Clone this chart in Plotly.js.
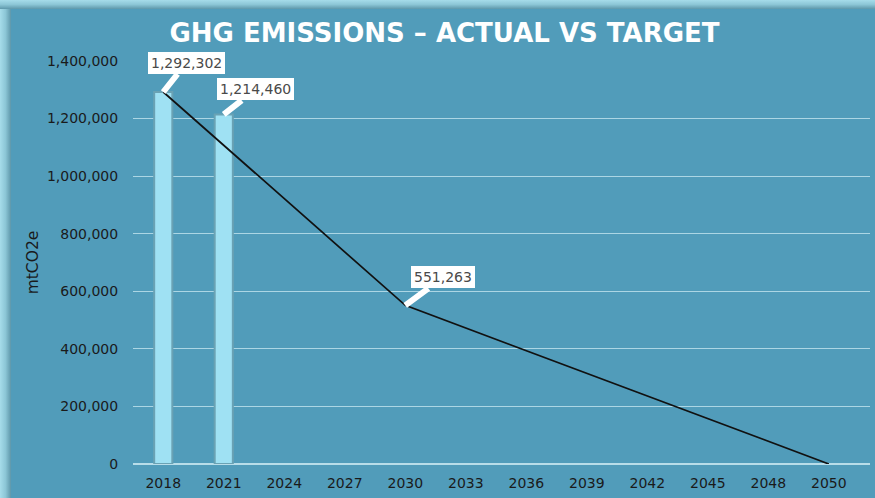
<!DOCTYPE html>
<html>
<head>
<meta charset="utf-8">
<script src="https://cdn.plot.ly/plotly-3.0.1.min.js"></script>
<style>
  html, body { margin: 0; padding: 0; background: #519cba; }
  #wrap { position: relative; width: 875px; height: 498px; overflow: hidden; }
  #chart { position: absolute; left: 0; top: 0; width: 875px; height: 498px; }
  #topbar { position: absolute; left: 0; top: 0; width: 875px; height: 9px;
    background: linear-gradient(to bottom, #a6dcea 0%, #8cc6d6 50%, #5e97aa 100%); z-index: 5; }
  #leftbar { position: absolute; left: 0; top: 0; width: 11px; height: 498px;
    background: linear-gradient(to right, #a6dcea 0%, #8cc6d6 50%, #5e97aa 100%); z-index: 4; }
</style>
</head>
<body>
<div id="wrap">
  <div id="chart"></div>
  <div id="topbar"></div>
  <div id="leftbar"></div>
</div>
<script>
const years = ['2018','2021','2024','2027','2030','2033','2036','2039','2042','2045','2048','2050'];
const actualValues = [1292302, 1214460, null, null, null, null, null, null, null, null, null, null];
const targetValues = [1292302, null, null, null, 551263, null, null, null, null, null, null, 0];
const yTicks = [0, 200000, 400000, 600000, 800000, 1000000, 1200000, 1400000];
const yTickText = ['0','200,000','400,000','600,000','800,000','1,000,000','1,200,000','1,400,000'];

const fmt = v => v.toLocaleString('en-US');

const traces = [
  {
    type: 'bar', x: years, y: actualValues, width: 0.3,
    marker: { color: '#9fe1f3', line: { color: '#6aa2b4', width: 2 } },
    hoverinfo: 'skip', showlegend: false
  },
  {
    type: 'scatter', mode: 'lines', x: years, y: targetValues, connectgaps: true,
    line: { color: '#111111', width: 1.7 }, hoverinfo: 'skip', showlegend: false
  }
];

const calloutStyle = {
  showarrow: true, arrowhead: 0, arrowwidth: 6, arrowcolor: '#ffffff',
  bgcolor: '#ffffff', borderpad: 3, borderwidth: 0,
  font: { family: 'DejaVu Sans, Verdana, sans-serif', size: 14, color: '#4a4a4a' }
};

// category index via the axis (annotations on category axes take index positions)
const idx = y => years.indexOf(y);

const annotations = [
  Object.assign({}, calloutStyle, { xref: 'x', yref: 'y', x: idx('2018'), y: actualValues[0], text: fmt(actualValues[0]), ax: 23, ay: -29 }),
  Object.assign({}, calloutStyle, { xref: 'x', yref: 'y', x: idx('2021'), y: actualValues[1], text: fmt(actualValues[1]), ax: 32, ay: -25 }),
  Object.assign({}, calloutStyle, { xref: 'x', yref: 'y', x: idx('2030'), y: targetValues[4], text: fmt(targetValues[4]), ax: 38, ay: -28 })
];

const layout = {
  width: 875, height: 498,
  paper_bgcolor: '#519cba', plot_bgcolor: '#519cba',
  margin: { l: 133, r: 5, t: 61, b: 34 },
  title: {
    text: '<b>GHG EMISSIONS – ACTUAL VS TARGET</b>',
    font: { family: 'DejaVu Sans, Verdana, sans-serif', size: 26, color: '#ffffff' },
    x: 0.508, xanchor: 'center', y: 1 - 33/498, yanchor: 'middle'
  },
  font: { family: 'DejaVu Sans, Verdana, sans-serif', color: '#1a1a1a' },
  xaxis: {
    type: 'category', range: [-0.5, 11.68],
    showgrid: false, zeroline: false, showline: false,
    ticks: 'outside', ticklen: 6, tickcolor: 'rgba(0,0,0,0)',
    tickfont: { size: 14, color: '#1a1a1a' }, fixedrange: true
  },
  yaxis: {
    range: [0, 1400000], tickvals: yTicks, ticktext: yTickText,
    showgrid: true, gridcolor: '#acd6e4', gridwidth: 1,
    zeroline: true, zerolinecolor: '#b8dde9', zerolinewidth: 2,
    showline: false,
    ticks: 'outside', ticklen: 11, tickcolor: 'rgba(0,0,0,0)',
    tickfont: { size: 14, color: '#1a1a1a' },
    title: { text: 'mtCO2e', font: { size: 15.5, color: '#1a1a1a' }, standoff: 4 },
    automargin: false, fixedrange: true
  },
  annotations: annotations,
  bargap: 0
};

Plotly.newPlot('chart', traces, layout, { displayModeBar: false, staticPlot: true });
</script>
</body>
</html>
